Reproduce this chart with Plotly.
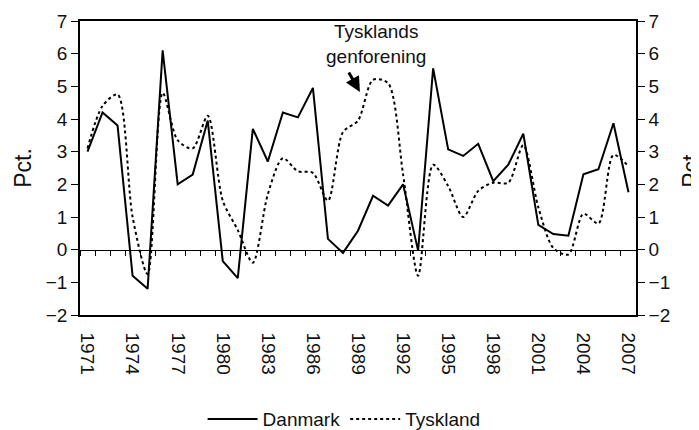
import plotly.graph_objects as go

years = [1971, 1972, 1973, 1974, 1975, 1976, 1977, 1978, 1979, 1980,
         1981, 1982, 1983, 1984, 1985, 1986, 1987, 1988, 1989, 1990,
         1991, 1992, 1993, 1994, 1995, 1996, 1997, 1998, 1999, 2000,
         2001, 2002, 2003, 2004, 2005, 2006, 2007]

danmark = [3.0, 4.2, 3.8, -0.8, -1.2, 6.1, 2.0, 2.3, 3.95, -0.35,
           -0.87, 3.7, 2.7, 4.2, 4.05, 4.95, 0.33, -0.1, 0.58, 1.65,
           1.35, 2.0, -0.03, 5.55, 3.07, 2.87, 3.24, 2.1, 2.6, 3.55,
           0.76, 0.48, 0.43, 2.31, 2.46, 3.87, 1.76]

tyskland = [3.1, 4.4, 4.75, 1.0, -0.75, 4.8, 3.35, 3.1, 4.1, 1.5,
            0.6, -0.4, 1.7, 2.8, 2.4, 2.35, 1.5, 3.6, 3.95, 5.2,
            5.1, 2.3, -0.8, 2.6, 1.95, 1.0, 1.8, 2.05, 2.05, 3.2,
            1.3, 0.05, -0.15, 1.1, 0.8, 2.9, 2.55]

label_years = [1971, 1974, 1977, 1980, 1983, 1986, 1989, 1992, 1995, 1998, 2001, 2004, 2007]
label_text = [str(y) for y in label_years]

FONT = "Liberation Sans, Arial, sans-serif"

fig = go.Figure()
fig.add_trace(go.Scatter(
    x=years, y=danmark, name="Danmark", mode="lines",
    line=dict(color="black", width=2),
))
fig.add_trace(go.Scatter(
    x=years, y=tyskland, name="Tyskland", mode="lines",
    line=dict(color="black", width=2, dash="dot", shape="spline", smoothing=0.8),
    xaxis="x2", yaxis="y2",
))

xr = [1970.5, 2007.5]
yr = [-2, 7]

fig.update_layout(
    width=699, height=430,
    margin=dict(l=72, r=71, t=13, b=123, pad=0, autoexpand=False),
    paper_bgcolor="white", plot_bgcolor="white",
    font=dict(family=FONT, size=19, color="#111111"),
    xaxis=dict(
        range=xr, tickmode="array", tickvals=label_years, ticktext=label_text,
        tickangle=90, showline=True, mirror=True, linecolor="black", linewidth=1.5,
        ticks="", showgrid=False, zeroline=False, ticklabelstandoff=12,
        automargin=False,
    ),
    xaxis2=dict(
        range=xr, overlaying="x", anchor="free", position=2 / 9, side="bottom",
        tickmode="linear", tick0=1970.5, dtick=1, ticks="outside", ticklen=5,
        tickcolor="black", tickwidth=1, showticklabels=False, showline=True,
        linecolor="black", linewidth=1, showgrid=False, zeroline=False,
        automargin=False,
    ),
    yaxis=dict(
        range=yr, tickmode="linear", tick0=-2, dtick=1, ticks="outside", ticklen=7,
        tickcolor="black", showline=True, linecolor="black", linewidth=1.5,
        showgrid=False, zeroline=False, automargin=False,
        title=dict(text="Pct.", standoff=8),
    ),
    yaxis2=dict(
        range=yr, overlaying="y", side="right", anchor="x", tickmode="linear", tick0=-2,
        dtick=1, ticks="outside", ticklen=7, tickcolor="black", showline=True,
        linecolor="black", linewidth=1.5, showgrid=False, zeroline=False,
        automargin=False,
        title=dict(text="Pct.", standoff=14),
    ),
    showlegend=True,
    legend=dict(
        orientation="h", x=0.475, xanchor="center", y=-0.354, yanchor="middle",
        font=dict(size=19), itemwidth=50, bgcolor="rgba(0,0,0,0)",
    ),
    annotations=[
        dict(x=1990.2, y=6.3, xref="x", yref="y", text="Tysklands<br>genforening",
             showarrow=False, font=dict(size=19)),
        dict(x=1989.13, y=4.83, ax=1988.33, ay=5.47, xref="x", yref="y",
             axref="x", ayref="y", text="", showarrow=True, arrowhead=2,
             arrowsize=1, arrowwidth=3, arrowcolor="black"),
    ],
)

fig.write_html("out.html")
